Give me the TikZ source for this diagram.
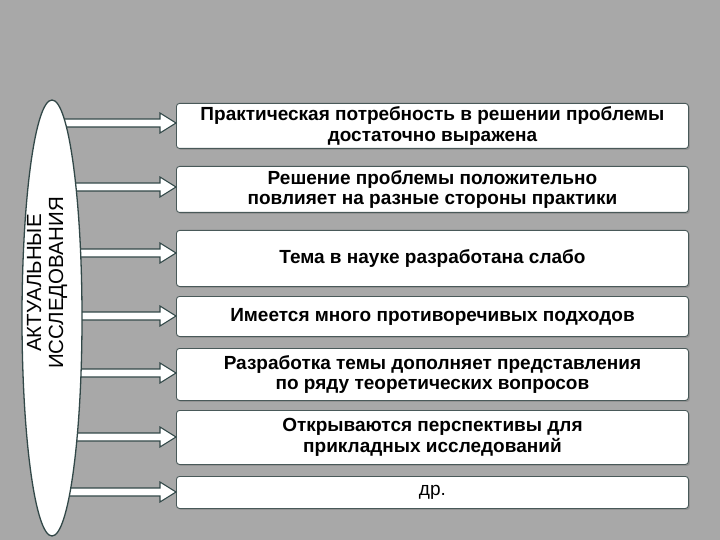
\documentclass[tikz,border=0pt]{standalone}
\usepackage{fontspec}
\setmainfont{Liberation Sans}
\usetikzlibrary{calc,shadows}
\definecolor{bg}{RGB}{168,168,168}
\definecolor{edge}{RGB}{50,72,72}
\tikzset{
 box/.style={draw=edge!70!gray,line width=0.9pt,fill=white,rounded corners=3pt,minimum width=512pt,anchor=north west,align=center,font=\bfseries\fontsize{19}{20.5}\selectfont,inner sep=2pt,drop shadow={shadow xshift=1.5pt,shadow yshift=-1.5pt,opacity=0.5}},
 barrow/.style={draw=edge,line width=1.1pt,fill=white,line join=miter}
}
\begin{document}
\begin{tikzpicture}[x=1pt,y=-1pt]
\fill[bg] (0,0) rectangle (720,540);
\useasboundingbox (0,0) rectangle (720,540);
\node[box,minimum height=45pt] (b1) at (176,103) {Практическая потребность в решении проблемы\\достаточно выражена};
\node[box,minimum height=46pt] (b2) at (176,166) {Решение проблемы положительно\\повлияет на разные стороны практики};
\node[box,minimum height=56pt] (b3) at (176,230) {Тема в науке разработана слабо};
\node[box,minimum height=40pt] (b4) at (176,296) {Имеется много противоречивых подходов};
\node[box,minimum height=52pt] (b5) at (176,348) {Разработка темы  дополняет представления\\по ряду теоретических вопросов};
\node[box,minimum height=54pt] (b6) at (176,410) {Открываются перспективы для\\прикладных исследований};
\node[box,minimum height=32pt,font=\fontsize{19}{20}\selectfont] (b7) at (176,476) {др.};
\coordinate (ec) at (52,318);
\foreach \b/\yy in {b1/123,b2/187,b3/253,b4/316,b5/373,b6/437,b7/492}{
  \draw[barrow] let \p1=(ec), \p2=(\b.west) in
   (\x1,\yy-4) -- (\x2-16,\yy-4) -- (\x2-16,\yy-10) -- (\x2,\yy) -- (\x2-16,\yy+10) -- (\x2-16,\yy+4) -- (\x1,\yy+4) -- cycle;
}
\draw[draw=edge,line width=1.3pt,fill=white] (ec) ellipse [x radius=30,y radius=218];
\node[rotate=90,align=center,font=\fontsize{20.5}{22}\selectfont] (lbl) at (47,283) {АКТУАЛЬНЫЕ\\ИССЛЕДОВАНИЯ};
\end{tikzpicture}
\end{document}
